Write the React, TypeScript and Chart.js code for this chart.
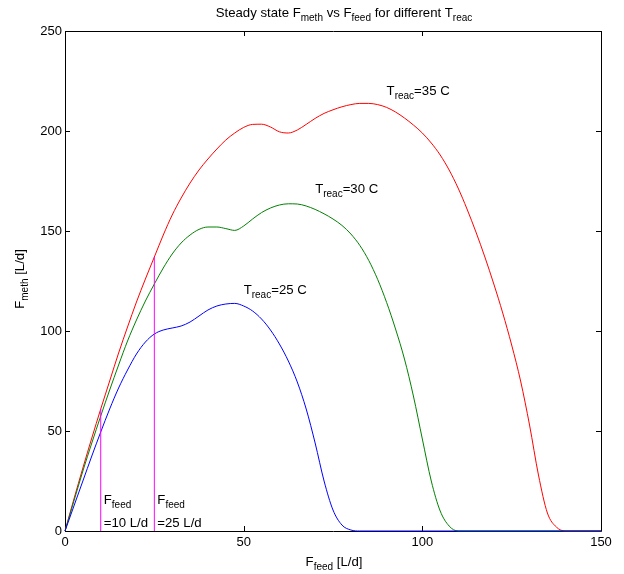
import React, { useEffect, useRef } from "react";
import { Chart, registerables } from "chart.js";

Chart.register(...registerables);

const FONT = '"Liberation Sans", Arial, Helvetica, sans-serif';
const MAIN = 13.2;
const SUB = 10;

// T_reac = 35 C
const feed35 = [0, 2.5, 5, 7.5, 10, 12.5, 15, 17.5, 20, 22.5, 25, 27.5, 30, 32.5, 35, 37.5, 40, 42.5, 45, 47.5, 50, 52.5, 55, 57.5, 60, 62.5, 65, 67.5, 70, 72.5, 75, 77.5, 80, 82.5, 85, 87.5, 90, 92.5, 95, 97.5, 100, 102.5, 105, 107.5, 110, 112.5, 115, 117.5, 120, 122.5, 125, 127.5, 130, 132.5, 135, 137.5, 140, 150];
const meth35 = [0, 16, 31.5, 46.5, 61, 75, 89, 102, 114.5, 126, 137, 148, 158, 166.5, 174, 180.5, 186, 191, 195.5, 199, 201.8, 203.3, 203.4, 202, 199.6, 199, 200.5, 203.3, 206.3, 208.8, 210.6, 212.1, 213.2, 213.8, 213.8, 213.2, 211.8, 209.5, 206.5, 203, 199, 194, 188, 180.5, 171.5, 161, 149.5, 137, 123.5, 109, 93, 75, 53, 28, 9, 2, 0, 0];

// T_reac = 30 C
const feed30 = [0, 2.5, 5, 7.5, 10, 12.5, 15, 17.5, 20, 22.5, 25, 27.5, 30, 32.5, 35, 37.5, 40, 42.5, 45, 47.5, 50, 52.5, 55, 57.5, 60, 62.5, 65, 67.5, 70, 72.5, 75, 77.5, 80, 82.5, 85, 87.5, 90, 92.5, 95, 97.5, 100, 102.5, 105, 107.5, 110, 150];
const meth30 = [0, 15, 30, 44, 57.5, 70.5, 83, 95, 105.5, 115, 123.5, 131.5, 138.5, 144, 148, 150.8, 152, 152, 151.2, 150.3, 152.5, 156, 159.2, 161.5, 163, 163.6, 163.5, 162.5, 160.8, 158.6, 156, 152.8, 148.5, 142.8, 135.3, 125.8, 114.3, 101, 86, 67.5, 46, 25, 10, 2.5, 0, 0];

// T_reac = 25 C
const feed25 = [0, 2.5, 5, 7.5, 10, 12.5, 15, 17.5, 20, 22.5, 25, 27.5, 30, 32.5, 35, 37.5, 40, 42.5, 45, 47.5, 50, 52.5, 55, 57.5, 60, 62.5, 65, 67.5, 70, 72.5, 75, 77.5, 80, 82.5, 150];
const meth25 = [0, 12.5, 25, 37.5, 49.5, 61, 71.5, 80.5, 88.5, 94.5, 98.5, 100.5, 101.5, 102.5, 104.5, 107.5, 110.5, 112.5, 113.5, 113.8, 112.5, 110, 106, 100.5, 93.5, 85, 74.5, 61, 44, 25, 10.5, 3, 0.5, 0, 0];

// marker lines at chosen feed rates
const markerFeeds = [10, 25];
const markerTops = [61, 137];
const markerTexts = ["=10 L/d", "=25 L/d"];

// curve labels
const tempNames = ["25", "30", "35"];
const tempLabelFeed = [50, 70, 90];
const tempLabelMeth = [118.5, 169, 218];

const xTicks = [0, 50, 100, 150];
const yTicks = [0, 50, 100, 150, 200, 250];

type Part = [string, boolean];

function drawRich(ctx: CanvasRenderingContext2D, parts: Part[], x: number, y: number, align: "left" | "center") {
  let w = 0;
  for (const [t, s] of parts) {
    ctx.font = `${s ? SUB : MAIN}px ${FONT}`;
    w += ctx.measureText(t).width;
  }
  let cx = align === "center" ? x - w / 2 : x;
  ctx.textAlign = "left";
  ctx.textBaseline = "alphabetic";
  ctx.fillStyle = "#000";
  for (const [t, s] of parts) {
    ctx.font = `${s ? SUB : MAIN}px ${FONT}`;
    ctx.fillText(t, cx, s ? y + 4 : y);
    cx += ctx.measureText(t).width;
  }
}

const framePlugin = {
  id: "frame",
  beforeDatasetsDraw(chart: any) {
    const { ctx, chartArea } = chart;
    const { left, right, top, bottom } = chartArea;
    const xs = chart.scales.x;
    const ys = chart.scales.y;
    ctx.save();
    ctx.strokeStyle = "#000";
    ctx.lineWidth = 1;
    ctx.beginPath();
    ctx.rect(Math.round(left) + 0.5, Math.round(top) + 0.5, Math.round(right - left), Math.round(bottom - top));
    for (const v of xTicks) {
      const p = Math.round(xs.getPixelForValue(v)) + 0.5;
      ctx.moveTo(p, bottom);
      ctx.lineTo(p, bottom - 5);
      ctx.moveTo(p, top);
      ctx.lineTo(p, top + 5);
    }
    for (const v of yTicks) {
      const p = Math.round(ys.getPixelForValue(v)) + 0.5;
      ctx.moveTo(left, p);
      ctx.lineTo(left + 5, p);
      ctx.moveTo(right, p);
      ctx.lineTo(right - 5, p);
    }
    ctx.stroke();
    ctx.restore();
  },
  afterDatasetsDraw(chart: any) {
    const { ctx, chartArea } = chart;
    const { left, right, top, bottom } = chartArea;
    const xs = chart.scales.x;
    const ys = chart.scales.y;
    ctx.save();
    // title
    drawRich(ctx, [["Steady state F", false], ["meth", true], [" vs F", false], ["feed", true], [" for different T", false], ["reac", true]], (left + right) / 2 + 11, top - 14, "center");
    // x label
    drawRich(ctx, [["F", false], ["feed", true], [" [L/d]", false]], (left + right) / 2 + 1, bottom + 35, "center");
    // y label
    ctx.save();
    ctx.translate(24, (top + bottom) / 2 - 2);
    ctx.rotate(-Math.PI / 2);
    drawRich(ctx, [["F", false], ["meth", true], [" [L/d]", false]], 0, 0, "center");
    ctx.restore();
    // curve labels
    for (let i = 0; i < tempNames.length; i++) {
      const px = xs.getPixelForValue(tempLabelFeed[i]);
      const py = ys.getPixelForValue(tempLabelMeth[i]);
      drawRich(ctx, [["T", false], ["reac", true], [`=${tempNames[i]} C`, false]], px, py, "left");
    }
    // marker labels
    for (let i = 0; i < markerFeeds.length; i++) {
      const px = xs.getPixelForValue(markerFeeds[i]) + 3;
      drawRich(ctx, [["F", false], ["feed", true]], px, bottom - 27, "left");
      drawRich(ctx, [[markerTexts[i], false]], px, bottom - 4.5, "left");
    }
    ctx.restore();
  },
};

function toPoints(xs: number[], ys: number[]) {
  return xs.map((x, i) => ({ x, y: ys[i] }));
}

export default function App() {
  const ref = useRef<HTMLCanvasElement | null>(null);
  useEffect(() => {
    if (!ref.current) return;
    const line = (data: any[], color: string) => ({
      data,
      borderColor: color,
      backgroundColor: color,
      borderWidth: 1,
      pointRadius: 0,
      fill: false,
      clip: false as any,
      cubicInterpolationMode: "monotone" as const,
    });
    const markers = markerFeeds.map((f, i) => ({
      data: [{ x: f, y: 0 }, { x: f, y: markerTops[i] }],
      borderColor: "#ff00ff",
      borderWidth: 1,
      pointRadius: 0,
      fill: false,
      clip: false as any,
    }));
    const chart = new Chart(ref.current, {
      type: "line",
      data: {
        datasets: [
          ...markers,
          line(toPoints(feed25, meth25), "#0000ff"),
          line(toPoints(feed30, meth30), "#008000"),
          line(toPoints(feed35, meth35), "#ff0000"),
        ],
      },
      options: {
        animation: false,
        responsive: false,
        devicePixelRatio: 1,
        layout: { padding: { top: 31, right: 23, left: 0, bottom: 0 } },
        plugins: { legend: { display: false }, tooltip: { enabled: false }, title: { display: false } },
        scales: {
          x: {
            type: "linear",
            min: 0,
            max: 150,
            grid: { display: false, drawTicks: false },
            border: { display: false },
            ticks: { stepSize: 50, padding: 4, color: "#000", maxRotation: 0, font: { family: FONT, size: 13 } },
            afterFit: (s: any) => { s.height = 43; },
          },
          y: {
            type: "linear",
            min: 0,
            max: 250,
            grid: { display: false, drawTicks: false },
            border: { display: false },
            ticks: { stepSize: 50, padding: 3, color: "#000", font: { family: FONT, size: 13 } },
            afterFit: (s: any) => { s.width = 65; },
          },
        },
      },
      plugins: [framePlugin],
    });
    return () => chart.destroy();
  }, []);
  return (
    <div style={{ position: "absolute", left: 0, top: 0, width: 624, height: 574, background: "#fff" }}>
      <canvas ref={ref} width={624} height={574} style={{ display: "block" }} />
    </div>
  );
}
